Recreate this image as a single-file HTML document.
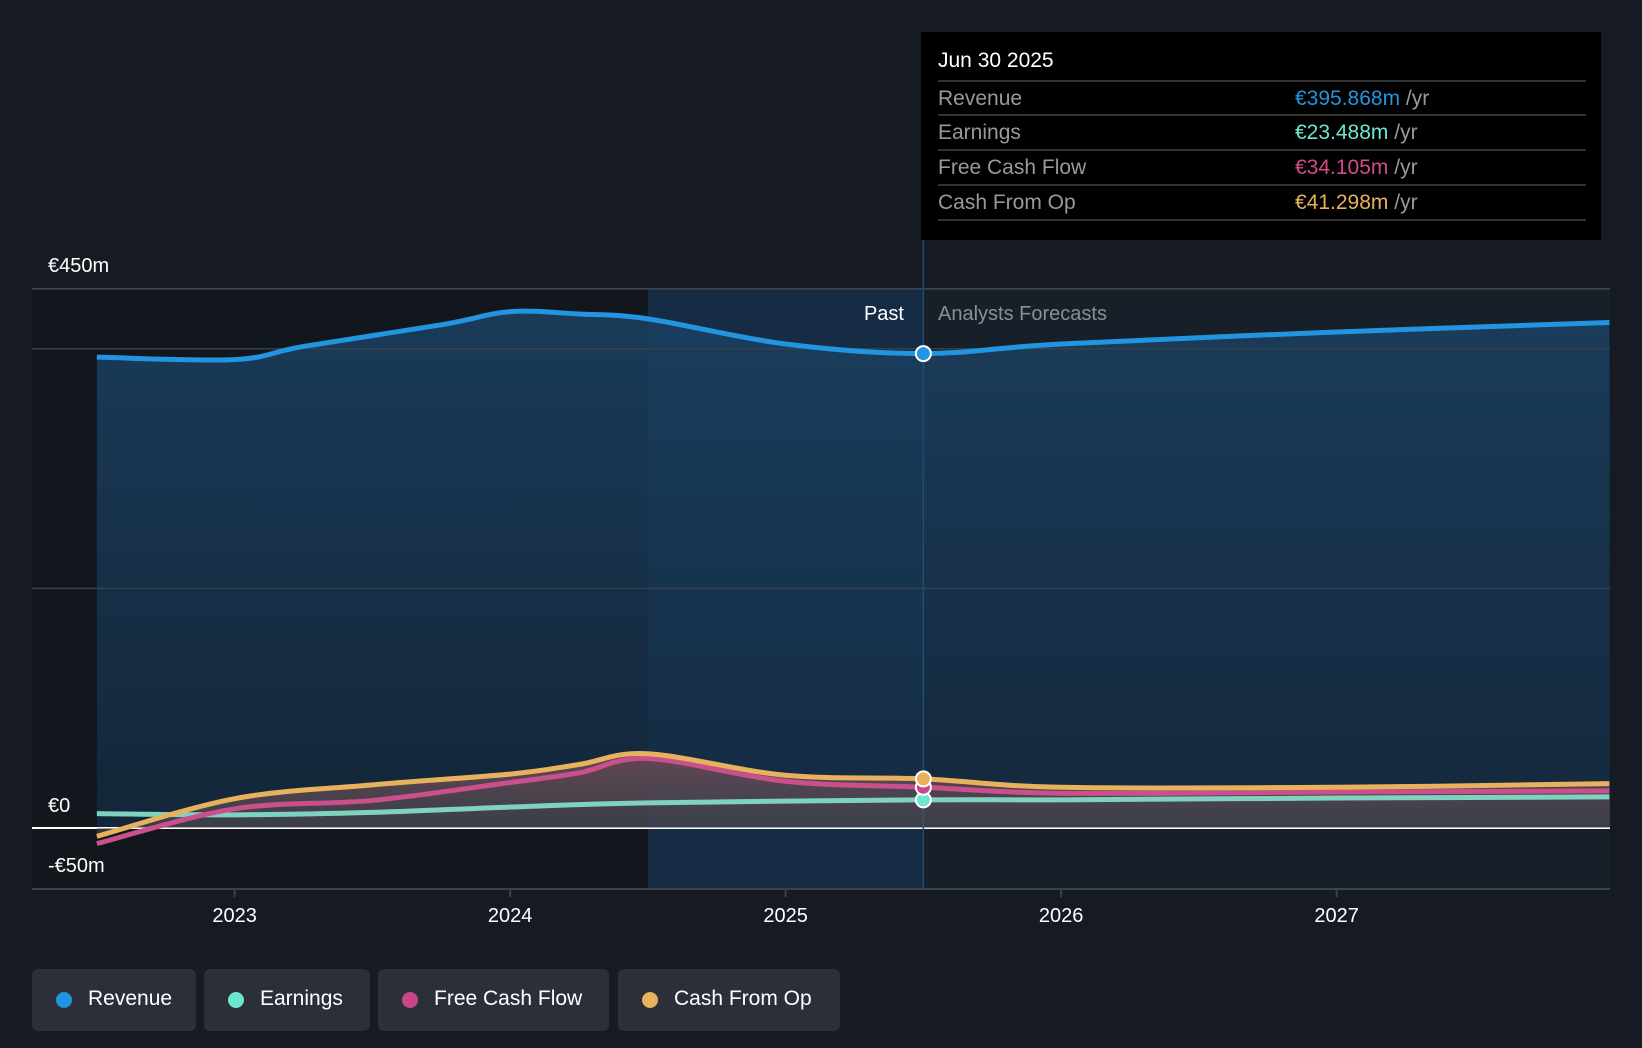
<!DOCTYPE html>
<html><head><meta charset="utf-8">
<style>
body{margin:0;background:#161b23;font-family:"Liberation Sans",sans-serif;}
#wrap{position:relative;width:1642px;height:1048px;overflow:hidden;background:#161b23}
.tt{position:absolute;left:921px;top:32px;width:680px;height:208px;background:#000}
.tt .d{position:absolute;left:17px;top:17px;color:#fff;font-size:21px}
.row{position:absolute;left:17px;width:648px;height:34px;border-top:2px solid #333;font-size:21px}
.row .l{position:absolute;left:0;top:5px;color:#999}
.row .v{position:absolute;left:357px;top:5px}
.row .v span{color:#999}
.leg{position:absolute;top:969px;height:62px;background:#2a2f38;border-radius:6px;color:#fff;font-size:21px}
.leg i{position:absolute;left:24px;top:23px;width:16px;height:16px;border-radius:50%}
.leg b{position:absolute;left:56px;top:18px;font-weight:normal}
</style></head><body>
<div id="wrap">
<svg id="svg" width="1642" height="1048" style="position:absolute;left:0;top:0"></svg>
<div class="tt">
<div class="d">Jun 30 2025</div>
<div class="row" style="top:48px"><div class="l">Revenue</div><div class="v" style="color:#2394df">€395.868m <span>/yr</span></div></div>
<div class="row" style="top:82px"><div class="l">Earnings</div><div class="v" style="color:#6ee6d2">€23.488m <span>/yr</span></div></div>
<div class="row" style="top:117px"><div class="l">Free Cash Flow</div><div class="v" style="color:#d44a8a">€34.105m <span>/yr</span></div></div>
<div class="row" style="top:152px"><div class="l">Cash From Op</div><div class="v" style="color:#e8b15e">€41.298m <span>/yr</span></div></div>
<div class="row" style="top:187px;height:0"></div>
</div>
<div class="leg" style="left:32px;width:164px"><i style="background:#2394df"></i><b>Revenue</b></div>
<div class="leg" style="left:204px;width:166px"><i style="background:#6ee6d2"></i><b>Earnings</b></div>
<div class="leg" style="left:378px;width:231px"><i style="background:#c9468a"></i><b>Free Cash Flow</b></div>
<div class="leg" style="left:618px;width:222px"><i style="background:#e8b15e"></i><b>Cash From Op</b></div>
</div>
<script>
const years=[2022.5,2023,2023.25,2023.75,2024,2024.25,2024.5,2025,2025.5,2026,2027,2027.99];
const revenue=[393,391,402,420,431,429,425,404,396,404,414,422];
const earnYears=[2022.5,2023,2023.5,2024,2024.5,2025.5,2026,2027,2027.99];
const earnings=[12,11,13,17.5,21,23.5,23.5,25,26];
const cfYears=[2022.5,2023,2023.5,2024,2024.25,2024.5,2025,2025.5,2026,2027,2027.99];
const fcf=[-13,16,23,38,46,58,39,34,29,30,31];
const cfo=[-7,24.5,36,45,53,62,44,41,34,34,37];
const yTicks=[0,200,400,450];
const xTicks=[2023,2024,2025,2026,2027];

const X=y=>234.6+(y-2023)*275.5;
const Y=v=>828-v*1.198;
const svg=document.getElementById('svg');
const NS='http://www.w3.org/2000/svg';
function el(t,a,p){const e=document.createElementNS(NS,t);for(const k in a)e.setAttribute(k,a[k]);(p||svg).appendChild(e);return e;}
function pathD(xs,vs){const p=xs.map((x,i)=>[Math.min(X(x),1610),Y(vs[i])]);let d='M'+p[0][0]+','+p[0][1];
for(let i=0;i<p.length-1;i++){const p0=p[i-1]||p[i],p1=p[i],p2=p[i+1],p3=p[i+2]||p2;
d+=` C${p1[0]+(p2[0]-p0[0])/6},${p1[1]+(p2[1]-p0[1])/6} ${p2[0]-(p3[0]-p1[0])/6},${p2[1]-(p3[1]-p1[1])/6} ${p2[0]},${p2[1]}`;}return d;}
const defs=el('defs',{});
const g=el('linearGradient',{id:'rg',x1:0,y1:0,x2:0,y2:1},defs);
el('stop',{offset:0,'stop-color':'#1b4163','stop-opacity':0.85},g);el('stop',{offset:1,'stop-color':'#142a40','stop-opacity':0.8},g);
const g2=el('linearGradient',{id:'og',x1:0,y1:0,x2:0,y2:1},defs);
el('stop',{offset:0,'stop-color':'#9a5a60','stop-opacity':0.6},g2);el('stop',{offset:1,'stop-color':'#555','stop-opacity':0.5},g2);
const XE=1610;
let r=el('rect',{x:32,y:289,width:X(2024.5)-32,height:600,fill:'#12161d'});
r=el('rect',{x:X(2024.5),y:289,width:X(2025.5)-X(2024.5),height:600,fill:'#152c44'});
r=el('rect',{x:X(2025.5),y:289,width:XE-X(2025.5),height:600,fill:'#171f29'});
const rd=pathD(years,revenue);
let a=el('path',{d:rd+` L${XE},${Y(0)} L${X(2022.5)},${Y(0)} Z`,fill:'url(#rg)'});
yTicks.forEach(v=>{const l=el('line',{x1:32,x2:XE,y1:Y(v),y2:Y(v),stroke:v===0?'#fff':(v===450?'#444a52':'#34404c'),'stroke-width':v===0?2:1.5});});
let ax=el('line',{x1:32,x2:XE,y1:889,y2:889,stroke:'#3c424a','stroke-width':2});
xTicks.forEach(t=>{const l=el('line',{x1:X(t),x2:X(t),y1:889,y2:897,stroke:'#3c424a','stroke-width':2});
const tx=el('text',{x:X(t),y:922,fill:'#fff','font-size':20,'text-anchor':'middle','font-family':'Liberation Sans'});tx.textContent=t;});
[['€450m',272],['€0',812],['-€50m',872]].forEach(([t,y])=>{const tx=el('text',{x:48,y:y,fill:'#fff','font-size':20,'font-family':'Liberation Sans'});tx.textContent=t;});
let vl=el('line',{x1:X(2025.5),x2:X(2025.5),y1:240,y2:889,stroke:'#1f4d72','stroke-width':1.5});
let pt=el('text',{x:904,y:320,fill:'#fff','font-size':20,'text-anchor':'end','font-family':'Liberation Sans'});pt.textContent='Past';
pt=el('text',{x:938,y:320,fill:'#8a8f96','font-size':20,'font-family':'Liberation Sans'});pt.textContent='Analysts Forecasts';
const cd=pathD(cfYears,cfo);
a=el('path',{d:cd+` L${XE},${Y(0)} L${X(2022.5)},${Y(0)} Z`,fill:'url(#og)'});
const series=[[earnYears,earnings,'#7fd1c0','earnings-line'],[cfYears,fcf,'#c9508a','fcf-line'],[cfYears,cfo,'#e8b15e','cfo-line'],[years,revenue,'#2394df','revenue-line']];
series.forEach(([xs,vs,c,n])=>{const p=el('path',{d:pathD(xs,vs),fill:'none',stroke:c,'stroke-width':5});});
[[earnings[5],'#6ee6d2','earnings-dot'],[fcf[7],'#c9468a','fcf-dot'],[cfo[7],'#e8b15e','cfo-dot'],[revenue[8],'#2394df','revenue-dot']].forEach(([v,c,n])=>{const d=el('circle',{cx:X(2025.5),cy:Y(v),r:7.5,fill:c,stroke:'#fff','stroke-width':2});});
</script>
</body></html>
